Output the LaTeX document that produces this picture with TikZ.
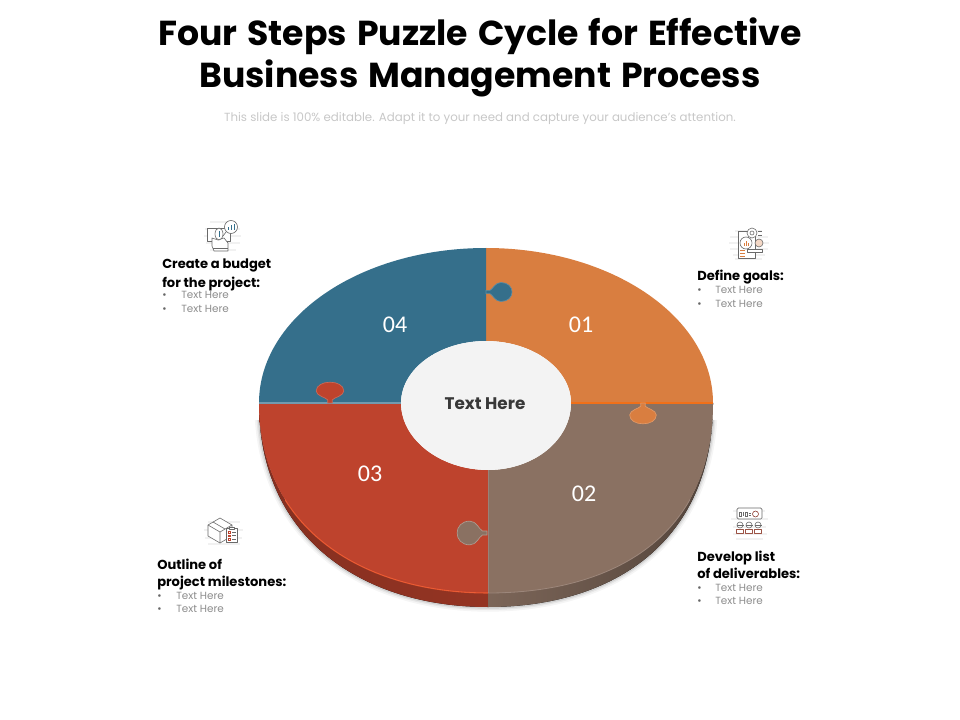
\documentclass[tikz,border=0pt]{standalone}
\usepackage{fontspec}
\setmainfont{Poppins}
\newfontfamily\numfont{Carlito}
\newfontfamily\titlefont[WordSpace=1.35]{Poppins}
\definecolor{cOrange}{HTML}{D97E40}
\definecolor{cBrown}{HTML}{8A7162}
\definecolor{cRed}{HTML}{BE432D}
\definecolor{cBlue}{HTML}{356F8B}
\definecolor{cHub}{HTML}{F3F3F3}
\definecolor{cIcon}{HTML}{6A6A6A}
\definecolor{cPale}{HTML}{F1F1F1}
\tikzset{
  titletext/.style={anchor=base,font=\titlefont\fontsize{26}{30}\selectfont\bfseries,text=black},
  subtext/.style={anchor=base,font=\fontsize{8.85}{10}\selectfont,text=black!22},
  headtext/.style={anchor=base west,inner sep=0pt,font=\fontsize{9.8}{11}\selectfont\bfseries,text=black},
  itemtext/.style={anchor=base west,inner sep=0pt,font=\fontsize{7.8}{9}\selectfont,text=black!45},
  dottext/.style={anchor=base west,inner sep=0pt,font=\fontsize{7.8}{9}\selectfont,text=black!60},
  numtext/.style={font=\numfont\fontsize{18}{19}\selectfont,text=white},
  hubtext/.style={font=\fontsize{12.6}{14}\selectfont\bfseries,text=black!78},
  iconline/.style={draw=cIcon,line width=0.45pt,line join=round},
  paleline/.style={cPale,line width=1.5pt},
}
\newcommand{\puzzletab}[7]{%
  \begin{scope}[shift={(#1,#2)},rotate=#3,xscale=#4,yscale=#5]
    \fill[#6,draw=#7,line width=0.5pt] (0,-1.6) -- (4,-1.6) .. controls (7,-3) and (9,-9.5) .. (15,-9.5)
      .. controls (22,-9.5) and (26,-5) .. (26,0) .. controls (26,5) and (22,9.5) .. (15,9.5)
      .. controls (9,9.5) and (7,3) .. (4,1.6) -- (0,1.6) -- cycle;
  \end{scope}}
\begin{document}
\begin{tikzpicture}[x=0.75pt,y=-0.75pt]
\useasboundingbox (0,0) rectangle (960,720);
% title
\node[titletext] (title1) at (480,46) {Four Steps Puzzle Cycle for Effective};
\node[titletext] (title2) at (480,88) {Business Management Process};
\node[subtext] (sub) at (480,122) {This slide is 100\% editable. Adapt it to your need and capture your audience's attention.};
% soft shadow, kept below the widest part of the disk
\begin{scope}
  \clip (240,420) rectangle (730,625);
  \foreach \w/\o in {7/0.04,4.5/0.06,2.5/0.09}{
    \draw[black,opacity=\o,line width=\w pt] (259,403) .. controls (259,540) and (365,607) .. (488,607)
       .. controls (615,607) and (713,540) .. (713,403);
  }
\end{scope}
% side wall
\fill[left color=cRed!70!black,right color=cRed!78!black] (488,607) .. controls (365,607) and (259,540) .. (259,403)
   .. controls (259,530) and (365,593) .. (488,593) -- cycle;
\fill[left color=cBrown!90!black,right color=cBrown!60!black] (488,607) .. controls (615,607) and (713,540) .. (713,403)
   .. controls (713,535) and (615,593) .. (488,593) -- cycle;
% top faces
\fill[cOrange] (486,248) .. controls (611,248) and (713,317) .. (713,403) -- (571,403)
   .. controls (571,369) and (533,341) .. (486,341) -- cycle;
\fill[cBrown] (713,403) .. controls (713,535) and (615,593) .. (488,593) -- (488,470)
   .. controls (534,470) and (571,440) .. (571,403) -- cycle;
\fill[cRed] (488,593) .. controls (365,593) and (259,530) .. (259,403) -- (401,403)
   .. controls (401,440) and (441,470) .. (488,470) -- cycle;
\fill[cBlue] (259,403) .. controls (259,317) and (360,248) .. (486,248) -- (486,341)
   .. controls (439,341) and (401,369) .. (401,403) -- cycle;
% rim highlights and seams
\begin{scope}
  \clip (285,400) rectangle (488,610);
  \draw[red!55!orange!80!white,line width=0.8pt,opacity=.75] (488,593) .. controls (365,593) and (259,530) .. (259,403);
\end{scope}
\begin{scope}
  \clip (488,400) rectangle (690,610);
  \draw[cBrown!85!white,line width=0.6pt] (488,593) .. controls (615,593) and (713,535) .. (713,403);
\end{scope}
\draw[cBlue!70!white,line width=0.8pt] (259,403) -- (401,403);
\draw[red!20!orange!60!cOrange,line width=1.1pt] (571,403) -- (713,403);
\draw[black!35,opacity=.4,line width=0.5pt] (488,470) -- (488,593);
% tabs
\puzzletab{486}{292}{0}{1}{1}{cBlue}{cBlue!80!white}
\puzzletab{330}{403}{90}{0.8}{1.45}{cRed}{cRed!80!white}
\puzzletab{643}{403}{-90}{0.8}{1.4}{cOrange}{cOrange!80!white}
\puzzletab{487}{533}{180}{1.15}{1.25}{cBrown}{cBrown!70!white}
% hub
\fill[cHub] (401,403) .. controls (401,369) and (439,341) .. (486,341) .. controls (533,341) and (571,369) .. (571,403)
   .. controls (571,440) and (534,470) .. (488,470) .. controls (441,470) and (401,440) .. (401,403) -- cycle;
\node[hubtext] (hub) at (485,404) {Text Here};
\node[numtext] (n1) at (581,325) {01};
\node[numtext] (n2) at (584,494) {02};
\node[numtext] (n3) at (370,474) {03};
\node[numtext] (n4) at (395,325) {04};
% labels: budget
\node[headtext] (h4a) at (162,269) {Create a budget};
\node[headtext] (h4b) at (162,287) {for the project:};
\node[dottext] (d4a) at (162,299) {•};
\node[itemtext] (t4a) at (181,299) {Text Here};
\node[dottext] (d4b) at (162,312) {•};
\node[itemtext] (t4b) at (181,312) {Text Here};
% labels: goals
\node[headtext] (h1a) at (697,281) {Define goals:};
\node[dottext] (d1a) at (697,294) {•};
\node[itemtext] (t1a) at (715,294) {Text Here};
\node[dottext] (d1b) at (697,307) {•};
\node[itemtext] (t1b) at (715,307) {Text Here};
% labels: milestones
\node[headtext] (h3a) at (157,569) {Outline of};
\node[headtext] (h3b) at (157,586) {project milestones:};
\node[dottext] (d3a) at (157,599) {•};
\node[itemtext] (t3a) at (176,599) {Text Here};
\node[dottext] (d3b) at (157,612) {•};
\node[itemtext] (t3b) at (176,612) {Text Here};
% labels: deliverables
\node[headtext] (h2a) at (697,561) {Develop list};
\node[headtext] (h2b) at (697,578) {of deliverables:};
\node[dottext] (d2a) at (697,591) {•};
\node[itemtext] (t2a) at (715,591) {Text Here};
\node[dottext] (d2b) at (697,604) {•};
\node[itemtext] (t2b) at (715,604) {Text Here};
% icon: budget
\foreach \y/\a/\b in {222/210/236,229/205/240,236/204/241,243/206/240,250/210/236}{\draw[paleline] (\a,\y) -- (\b,\y);}
\draw[iconline,fill=white] (207,228) rectangle (230,241);
\draw[iconline,fill=white] (212,238) -- (212,246) -- (214,251) -- (228,251) -- (228,243) -- (224,238) -- (218,240) -- cycle;
\draw[iconline] (213,248) -- (228,248);
\draw[iconline,fill=white] (219,234) ellipse [x radius=4,y radius=6];
\draw[draw=cBlue,line width=0.5pt] (219,231) -- (219,237);
\draw[iconline,fill=white] (231,227) circle [radius=6.5];
\draw[draw=cBlue,line width=0.6pt] (228,230) -- (228,227) (231,230) -- (231,225) (234,230) -- (234,224);
\draw[iconline] (226,232) -- (223,236);
% icon: goals
\foreach \y/\a/\b in {231/735/762,237/730/768,243/729/769,249/730/768,255/733/765,259/735/762}{\draw[paleline] (\a,\y) -- (\b,\y);}
\draw[iconline,fill=white] (738,231) rectangle (755,258);
\draw[cOrange,line width=0.7pt] (740,250) -- (745,250) (740,253) -- (745,253) (740,256) -- (745,256);
\draw[iconline,fill=white] (752,233) circle [radius=5];
\draw[iconline] (752,233) circle [radius=2];
\draw[iconline] (758,231) -- (762,231) (758,235) -- (762,235);
\draw[iconline,fill=white] (746,243) circle [radius=6];
\draw[cOrange,line width=0.6pt] (744,246) -- (744,243) (746,246) -- (746,241) (748,246) -- (748,243);
\draw[iconline,fill=cOrange!30!white] (759,243) circle [radius=4];
\draw[iconline,fill=white] (747,249.5) rectangle (762,252);
% icon: milestones
\foreach \y/\a/\b in {522/208/240,530/204/243,538/205/242,544/208/240}{\draw[paleline] (\a,\y) -- (\b,\y);}
\draw[iconline,fill=white] (208,525) -- (220,518) -- (232,525) -- (232,536) -- (220,543) -- (208,536) -- cycle;
\draw[iconline] (208,525) -- (220,532) -- (232,525) (220,532) -- (220,543) (213,522) -- (225,529);
\draw[iconline,fill=white] (226,528) rectangle (237,542);
\draw[iconline,fill=white] (229,527) rectangle (234,529);
\foreach \y in {531.5,535,538.5}{\draw[cRed,line width=0.6pt] (228,\y) rectangle (230,\y+1.5); \draw[cIcon,line width=0.4pt] (232,\y+.7) -- (235.5,\y+.7);}
% icon: deliverables
\foreach \y/\a/\b in {511/733/765,519/731/768,527/733/766,534/733/767,539/736/763}{\draw[paleline] (\a,\y) -- (\b,\y);}
\draw[iconline,fill=white,rounded corners=1pt] (737,508) rectangle (762,519);
\draw[cIcon,line width=0.4pt] (739.5,512) rectangle (741.5,516) (743,512) -- (743,516) (745,512) rectangle (747,516) (748.5,513) -- (751,513) (748.5,515) -- (751,515);
\draw[cRed!70!black,line width=0.4pt] (755.5,514) circle [radius=3];
\foreach \x in {740,749,758}{
  \draw[iconline,fill=white] (\x,525) circle [radius=3];
  \draw[iconline,draw=cRed!60!cIcon,fill=white] (\x-3.5,533) -- (\x-3.5,529.5) -- (\x+3.5,529.5) -- (\x+3.5,533) -- cycle;
  \draw[iconline] (\x-3.5,525) -- (\x+3.5,525);
}
\end{tikzpicture}
\end{document}
